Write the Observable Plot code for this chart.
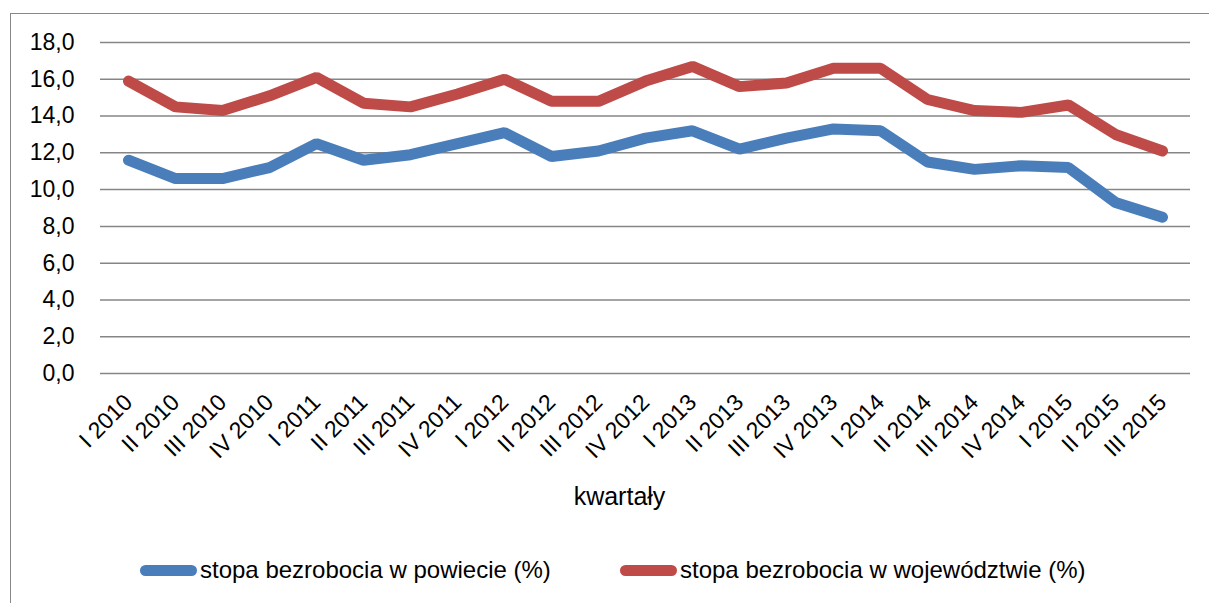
<!DOCTYPE html>
<html>
<head>
<meta charset="utf-8">
<script src="https://cdn.jsdelivr.net/npm/d3@7"></script>
<script src="https://cdn.jsdelivr.net/npm/@observablehq/plot@0.6"></script>
<style>
  html, body { margin: 0; padding: 0; background: #fff; }
  #wrap { position: relative; width: 1209px; height: 603px; overflow: hidden; font-family: "Liberation Sans", Arial, sans-serif; color: #000; }
  #frame { position: absolute; left: 10px; top: 13px; width: 1240px; height: 640px; border: 1.5px solid #888; box-sizing: border-box; }
  #chart { position: absolute; left: 0; top: 0; }
  #xlabel { position: absolute; left: 0; width: 1239px; top: 482px; text-align: center; font-size: 25px; }
  .leg { position: absolute; top: 556px; height: 28px; display: flex; align-items: center; font-size: 24px; white-space: nowrap; }
  .sw { width: 57px; height: 11px; border-radius: 6px; margin-right: 3px; }
</style>
</head>
<body>
<div id="wrap">
  <div id="frame"></div>
  <div id="chart"></div>
  <div id="xlabel">kwartały</div>
  <div class="leg" style="left:140px"><div class="sw" style="background:#4A7EBB"></div>stopa bezrobocia w powiecie (%)</div>
  <div class="leg" style="left:620px"><div class="sw" style="background:#BE4B48"></div>stopa bezrobocia w województwie (%)</div>
</div>
<script>
const quarters = ["I 2010","II 2010","III 2010","IV 2010","I 2011","II 2011","III 2011","IV 2011","I 2012","II 2012","III 2012","IV 2012","I 2013","II 2013","III 2013","IV 2013","I 2014","II 2014","III 2014","IV 2014","I 2015","II 2015","III 2015"];
const powiat = [11.6,10.6,10.6,11.2,12.5,11.6,11.9,12.5,13.1,11.8,12.1,12.8,13.2,12.2,12.8,13.3,13.2,11.5,11.1,11.3,11.2,9.3,8.5];
const wojewodztwo = [15.9,14.5,14.3,15.1,16.1,14.7,14.5,15.2,16.0,14.8,14.8,15.9,16.7,15.6,15.8,16.6,16.6,14.9,14.3,14.2,14.6,13.0,12.1];
const yTicks = [0,2,4,6,8,10,12,14,16,18];
const seriesNames = ["stopa bezrobocia w powiecie (%)", "stopa bezrobocia w województwie (%)"];

const rowsP = quarters.map((q, i) => ({q, v: powiat[i]}));
const rowsW = quarters.map((q, i) => ({q, v: wojewodztwo[i]}));

const H = 470;
const chart = Plot.plot({
  width: 1209,
  height: H,
  marginTop: 42,
  marginBottom: H - 373,
  marginLeft: 100,
  marginRight: 19,
  style: { fontFamily: "'Liberation Sans', Arial, sans-serif", fontSize: "23px", color: "#000", background: "transparent" },
  x: { type: "point", domain: quarters, padding: 0.5, label: null, tickSize: 0, tickRotate: -45, tickPadding: 25 },
  y: { domain: [0, 18], ticks: yTicks, tickFormat: d => d.toFixed(1).replace(".", ","), label: null, tickSize: 0, tickPadding: 26 },
  marks: [
    Plot.ruleY(yTicks, { stroke: "#868686", strokeWidth: 1.5 }),
    Plot.line(rowsP, { x: "q", y: "v", stroke: "#4A7EBB", strokeWidth: 11, strokeLinecap: "round", strokeLinejoin: "miter" }),
    Plot.line(rowsW, { x: "q", y: "v", stroke: "#BE4B48", strokeWidth: 11, strokeLinecap: "round", strokeLinejoin: "miter" })
  ]
});
document.getElementById("chart").appendChild(chart);
</script>
</body>
</html>
